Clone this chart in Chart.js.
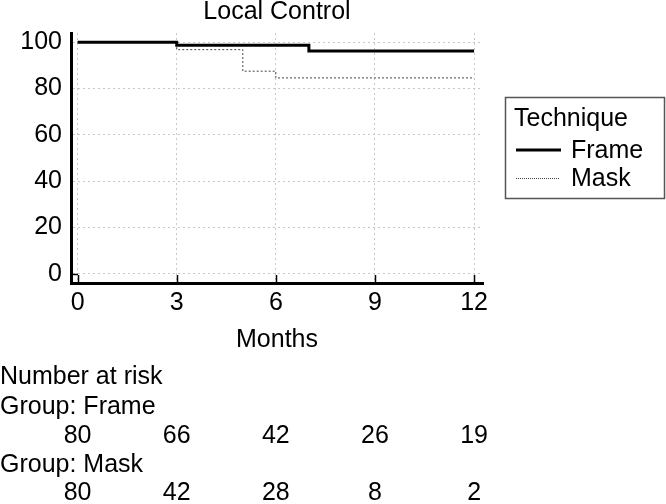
<!DOCTYPE html>
<html>
<head>
<meta charset="utf-8">
<script src="https://cdn.jsdelivr.net/npm/chart.js@4/dist/chart.umd.min.js"></script>
<style>
  body { margin: 0; background: #fff; }
  canvas { display: block; }
</style>
</head>
<body>
<canvas id="chartCanvas" width="666" height="504"></canvas>
<script>
// data
const months = [0, 3, 6, 9, 12];
const yTicks = [0, 20, 40, 60, 80, 100];
const frameTimes = [0, 3, 7, 12];
const frameSurv = [100, 98.7, 96.2, 96.2];
const maskTimes = [0, 3, 5, 6, 12];
const maskSurv = [100, 96.8, 87.5, 84.6, 84.6];
const riskFrame = [80, 66, 42, 26, 19];
const riskMask = [80, 42, 28, 8, 2];

const FONT = 'Liberation Sans';
const fontSize = 25;

function toPoints(xs, ys) {
    return xs.map((x, i) => ({ x: x, y: ys[i] }));
}

// inward tick marks on the axes
const innerTicks = {
    id: 'innerTicks',
    afterDatasetsDraw(chart) {
        const ctx = chart.ctx;
        const xs = chart.scales.x, ys = chart.scales.y;
        const area = chart.chartArea;
        ctx.save();
        ctx.strokeStyle = '#000';
        ctx.lineWidth = 1.5;
        months.forEach(m => {
            const px = Math.round(xs.getPixelForValue(m)) + 0.5;
            ctx.beginPath();
            ctx.moveTo(px, area.bottom);
            ctx.lineTo(px, area.bottom - 8);
            ctx.stroke();
        });
        const py = Math.round(ys.getPixelForValue(0)) + 0.5;
        ctx.beginPath();
        ctx.moveTo(area.left, py);
        ctx.lineTo(area.left + 7, py);
        ctx.stroke();
        ctx.restore();
    }
};

// title over the plot, legend box and number-at-risk table
const extras = {
    id: 'extras',
    afterDraw(chart) {
        const ctx = chart.ctx;
        const xs = chart.scales.x;
        const area = chart.chartArea;
        ctx.save();
        ctx.font = fontSize + 'px "' + FONT + '"';
        ctx.fillStyle = '#000';
        ctx.textBaseline = 'middle';

        ctx.textAlign = 'center';
        ctx.fillText('Local Control', (area.left + area.right) / 2, 12);

        // legend
        ctx.strokeStyle = '#555';
        ctx.lineWidth = 1.5;
        ctx.strokeRect(505.5, 97.5, 159, 101);
        ctx.textAlign = 'left';
        ctx.fillText('Technique', 514, 119);
        ctx.strokeStyle = '#000';
        ctx.lineWidth = 3;
        ctx.beginPath();
        ctx.moveTo(516, 150);
        ctx.lineTo(561, 150);
        ctx.stroke();
        ctx.fillText('Frame', 571, 151);
        ctx.strokeStyle = '#444';
        ctx.lineWidth = 1;
        ctx.setLineDash([1, 1]);
        ctx.beginPath();
        ctx.moveTo(516, 178.5);
        ctx.lineTo(560, 178.5);
        ctx.stroke();
        ctx.setLineDash([]);
        ctx.fillText('Mask', 571, 179);

        // risk table
        ctx.fillText('Number at risk', 0, 377);
        ctx.fillText('Group: Frame', 0, 407);
        ctx.fillText('Group: Mask', 0, 465);
        ctx.textAlign = 'center';
        months.forEach((m, i) => {
            const px = xs.getPixelForValue(m);
            ctx.fillText(String(riskFrame[i]), px, 436);
            ctx.fillText(String(riskMask[i]), px, 493);
        });
        ctx.restore();
    }
};

const ctx = document.getElementById('chartCanvas').getContext('2d');

new Chart(ctx, {
    type: 'line',
    data: {
        datasets: [
            {
                label: 'Frame',
                data: toPoints(frameTimes, frameSurv),
                borderColor: '#000',
                borderWidth: 3,
                stepped: 'before',
                pointRadius: 0,
                fill: false
            },
            {
                label: 'Mask',
                data: toPoints(maskTimes, maskSurv),
                borderColor: '#444',
                borderWidth: 1,
                borderDash: [2, 2],
                stepped: 'before',
                pointRadius: 0,
                fill: false
            }
        ]
    },
    options: {
        responsive: false,
        animation: false,
        layout: {
            padding: { left: 0, right: 183, top: 33, bottom: 149 }
        },
        plugins: {
            legend: { display: false },
            tooltip: { enabled: false },
            title: { display: false }
        },
        scales: {
            x: {
                type: 'linear',
                min: -0.2,
                max: 12.27,
                afterBuildTicks: s => { s.ticks = months.map(v => ({ value: v })); },
                afterFit: s => { s.height = 72; },
                grid: { color: '#c8c8c8', lineWidth: 1, drawTicks: false },
                border: { color: '#000', width: 3, dash: [2, 3] },
                ticks: {
                    color: '#000',
                    padding: 5,
                    maxRotation: 0,
                    font: { family: FONT, size: fontSize }
                },
                title: {
                    display: true,
                    text: 'Months',
                    color: '#000',
                    padding: 0,
                    font: { family: FONT, size: fontSize }
                }
            },
            y: {
                type: 'linear',
                min: -4,
                max: 104,
                afterBuildTicks: s => { s.ticks = yTicks.map(v => ({ value: v })); },
                afterFit: s => { s.width = 71; },
                grid: { color: '#c8c8c8', lineWidth: 1, drawTicks: false },
                border: { color: '#000', width: 3, dash: [2, 3] },
                ticks: {
                    color: '#000',
                    padding: 9,
                    font: { family: FONT, size: fontSize }
                }
            }
        }
    },
    plugins: [innerTicks, extras]
});
</script>
</body>
</html>
